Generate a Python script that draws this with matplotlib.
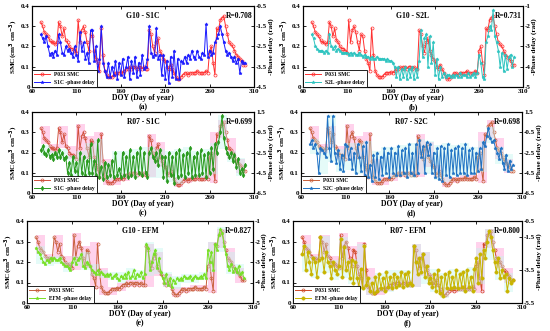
import numpy as np
import matplotlib
matplotlib.use('Agg')
import matplotlib.pyplot as plt

plt.rcParams['font.family'] = ['Liberation Serif', 'DejaVu Serif']
plt.rcParams['font.weight'] = 'bold'
plt.rcParams['axes.labelweight'] = 'bold'
plt.rcParams['axes.unicode_minus'] = False

# DOY, every 2 days
doy = np.arange(70, 301, 2)

# P031 soil moisture (cm3 cm-3)
smc = [0.32, 0.30, 0.27, 0.26, 0.25, 0.23, 0.22, 0.22, 0.21, 0.22,
       0.32, 0.30, 0.25, 0.29, 0.23, 0.22, 0.20, 0.19, 0.19, 0.18,
       0.17, 0.33, 0.22, 0.28, 0.30, 0.27, 0.22, 0.18, 0.26, 0.25,
       0.18, 0.14, 0.12, 0.08, 0.29, 0.16, 0.08, 0.06, 0.05, 0.05,
       0.05, 0.06, 0.07, 0.07, 0.07, 0.075, 0.07, 0.08, 0.09, 0.09,
       0.10, 0.09, 0.10, 0.10, 0.09, 0.10, 0.10, 0.09, 0.10, 0.09,
       0.09, 0.28, 0.26, 0.20, 0.17, 0.22, 0.24, 0.18, 0.16, 0.14,
       0.13, 0.10, 0.09, 0.11, 0.09, 0.07, 0.05, 0.04, 0.04, 0.05,
       0.06, 0.07, 0.07, 0.06, 0.07, 0.07, 0.07, 0.07, 0.08, 0.07,
       0.07, 0.07, 0.07, 0.08, 0.07, 0.18, 0.20, 0.12, 0.06, 0.29,
       0.28, 0.33, 0.34, 0.35, 0.30, 0.26, 0.22, 0.21, 0.20, 0.18,
       0.16, 0.15, 0.14, 0.13, 0.11, 0.11]

# -phase delay (rad)
pd_g10_s1c = [-1.9, -2.1, -2.3, -2.0, -2.5, -2.9, -2.8, -3.0, -2.7, -2.9,
              -1.9, -2.3, -2.8, -2.9, -2.5, -2.7, -2.6, -2.8, -3.0, -2.5,
              -2.9, -3.2, -1.8, -2.7, -2.3, -3.1, -2.8, -3.3, -1.7, -1.7,
              -3.2, -2.5, -3.7, -3.1, -1.5, -3.3, -3.7, -4.0, -3.3, -4.0,
              -3.5, -3.9, -3.2, -4.1, -3.3, -3.9, -3.1, -4.0, -3.5, -3.0,
              -4.1, -3.2, -3.8, -3.0, -4.0, -3.3, -3.9, -2.9, -3.6, -3.5,
              -3.1, -1.5, -2.8, -3.0, -2.9, -1.6, -3.1, -2.9, -3.9, -2.9,
              -4.1, -3.2, -4.3, -3.0, -4.0, -2.7, -4.1, -3.1, -4.1, -3.2,
              -3.3, -3.0, -3.3, -2.9, -3.1, -2.7, -3.0, -3.1, -2.7, -3.0,
              -3.1, -2.8, -2.9, -1.4, -3.0, -2.7, -2.9, -2.8, -2.3, -2.1,
              -1.9, -1.5, -1.9, -2.3, -2.7, -2.9, -2.8, -3.0, -3.2, -3.0,
              -3.3, -3.1, -3.8, -3.2, -3.3, -3.3]

pd_g10_s2l = [-2.4, -2.6, -3.0, -3.1, -3.2, -3.2, -3.2, -3.3, -3.2, -3.3,
              -2.4, -3.0, -3.1, -3.0, -3.2, -3.1, -3.2, -3.3, -3.3, -3.3,
              -3.3, -3.4, -3.3, -3.4, -3.3, -3.4, -3.4, -3.3, -3.4, -3.5,
              -3.4, -3.5, -3.5, -3.6, -3.5, -3.6, -3.6, -3.5, -3.6, -3.6,
              -3.6, -3.6, -3.7, -3.6, -3.7, -3.7, -3.8, -4.0, -4.5, -4.0,
              -4.6, -4.1, -4.5, -4.0, -4.6, -4.1, -4.5, -4.0, -4.6, -4.1,
              -4.5, -3.7, -2.2, -3.5, -2.6, -2.4, -4.0, -2.5, -3.8, -2.8,
              -4.4, -3.6, -4.6, -4.0, -4.5, -4.3, -4.5, -4.4, -4.4, -4.5,
              -4.4, -4.5, -4.4, -4.5, -4.3, -4.5, -4.4, -4.4, -4.5, -4.3,
              -4.5, -4.4, -4.3, -4.5, -4.3, -3.4, -3.8, -4.5, -4.6, -2.8,
              -2.5, -2.0, -2.2, -1.2, -2.5, -2.8, -3.2, -4.0, -3.3, -4.2,
              -3.4, -4.1, -3.5, -3.4, -4.0, -3.5]

pd_r07_s1c = [-2.3, -1.9, -2.5, -2.7, -2.3, -2.9, -2.7, -3.1, -2.5, -2.9,
              -2.3, -2.9, -2.5, -3.1, -2.9, -4.5, -3.5, -4.7, -2.9, -4.3,
              -3.5, -4.9, -2.5, -4.5, -2.9, -4.7, -3.3, -4.5, -1.7, -4.5,
              -3.3, -4.7, -1.3, -4.9, -3.9, -5.1, -3.5, -4.9, -3.7, -4.7,
              -3.3, -4.9, -2.5, -4.7, -4.1, -4.9, -2.5, -4.7, -2.9, -4.9,
              -2.3, -4.7, -2.9, -4.9, -2.5, -4.5, -2.1, -4.7, -2.5, -4.5,
              -4.9, -2.5, -2.1, -2.9, -3.3, -2.5, -3.7, -2.3, -2.9, -4.9,
              -2.9, -5.3, -2.5, -4.7, -2.9, -5.5, -2.5, -4.9, -2.3, -4.7,
              -2.7, -4.9, -2.5, -4.5, -2.1, -4.9, -2.9, -4.7, -2.5, -4.7,
              -2.3, -4.5, -2.7, -4.9, -2.5, -4.5, -2.1, -4.1, -1.7, -2.5,
              -1.5, -0.5, 1.1, -1.1, -2.1, -2.5, -2.9, -2.5, -3.3, -2.7,
              -3.9, -3.1, -4.5, -4.1, -4.7, -3.7]

pd_r07_s2c = [-1.7, -1.3, -2.1, -1.7, -2.5, -4.5, -2.1, -2.3, -2.5, -2.9,
              1.1, -2.1, -3.3, 1.1, -2.5, -3.5, -2.3, -4.1, -2.7, -4.3,
              -1.7, -1.9, -3.1, -2.1, -4.1, -2.5, -4.5, -1.7, -2.9, -4.3,
              -1.9, -4.7, -1.5, -4.9, -3.7, -5.3, -2.7, -4.9, -2.5, -5.1,
              -2.9, -4.7, -2.1, -4.5, -2.5, -4.9, -2.1, -4.5, -2.5, -4.7,
              -1.9, -4.7, -2.3, -4.5, -2.1, -4.9, -1.7, -4.5, -2.5, -4.7,
              -1.7, -4.5, -1.3, -2.9, -1.9, -4.5, -1.5, -2.7, -1.7, -4.5,
              -2.5, -4.9, -2.1, -5.1, -1.9, -5.3, -2.1, -4.7, -1.7, -4.9,
              -2.3, -4.5, -2.1, -4.7, -1.9, -4.5, -2.1, -4.5, -1.7, -4.7,
              -2.3, -4.5, -2.1, -4.5, -2.5, -4.3, -2.1, -4.1, -1.5, -1.9,
              -0.9, -0.1, -1.1, -1.5, -1.3, -2.1, -2.5, -3.1, -2.1, -3.5,
              -4.1, -2.7, -4.3, -3.3, -4.1, -3.7]

pd_g10_efm = [-2.3, -2.5, -2.6, -2.8, -3.0, -3.1, -2.9, -3.0, -2.8, -2.9,
              -2.8, -2.9, -2.9, -2.8, -3.0, -3.1, -3.2, -3.2, -3.3, -3.4,
              -3.0, -2.8, -3.1, -2.9, -2.8, -2.6, -3.2, -3.3, -3.0, -3.1,
              -3.2, -3.4, -3.5, -3.6, -3.4, -3.6, -3.5, -3.6, -3.7, -3.6,
              -3.7, -3.6, -3.8, -3.7, -3.6, -3.8, -3.9, -3.7, -3.8, -3.6,
              -3.8, -3.5, -3.8, -3.7, -3.4, -3.8, -3.6, -3.7, -3.5, -3.8,
              -3.6, -2.1, -2.3, -3.4, -3.0, -2.6, -2.4, -3.3, -2.8, -3.5,
              -3.8, -4.0, -3.6, -4.1, -3.8, -4.2, -3.9, -4.0, -3.8, -3.9,
              -3.8, -3.9, -3.7, -3.8, -3.8, -3.7, -3.9, -3.8, -3.7, -3.8,
              -3.8, -3.7, -3.8, -3.6, -3.8, -2.4, -3.0, -2.5, -3.4, -2.1,
              -2.4, -1.7, -1.4, -1.6, -2.2, -2.6, -3.2, -3.4, -3.1, -3.5,
              -3.3, -3.5, -3.2, -3.6, -3.5, -3.8]

pd_r07_efm = [-2.5, -2.0, -3.5, -2.4, -3.0, -3.75, -2.75, -3.0, -3.9, -2.9,
              -1.5, -2.75, -3.6, -2.4, -3.0, -3.25, -4.0, -3.0, -3.5, -3.75,
              -3.25, -1.6, -3.9, -2.1, -3.5, -3.0, -4.0, -2.9, -4.25, -3.0,
              -4.0, -4.5, -3.4, -4.6, -2.0, -4.4, -4.0, -4.75, -4.25, -4.9,
              -3.9, -4.75, -3.75, -4.6, -4.0, -4.75, -3.6, -4.5, -3.9, -4.6,
              -3.75, -4.5, -3.9, -4.4, -3.6, -4.5, -3.75, -4.4, -3.6, -4.25,
              -4.4, -2.0, -3.0, -3.75, -2.75, -3.6, -2.5, -3.9, -3.25, -4.25,
              -4.0, -4.5, -3.75, -4.75, -3.5, -4.9, -3.9, -5.1, -3.75, -4.6,
              -3.6, -4.6, -3.9, -4.5, -3.5, -4.6, -3.75, -4.5, -3.6, -4.75,
              -3.5, -4.5, -3.9, -4.75, -3.4, -2.75, -4.25, -2.5, -4.0, -2.25,
              -2.75, -1.75, -1.1, -1.5, -2.25, -3.0, -3.6, -2.75, -4.0, -3.5,
              -3.9, -3.75, -4.75, -4.0, -4.25, -4.1]


def block_band(v, n=5):
    v = np.asarray(v, dtype=float)
    lo = np.array([v[(i // n) * n:(i // n) * n + n].min() for i in range(len(v))])
    hi = np.array([v[(i // n) * n:(i // n) * n + n].max() for i in range(len(v))])
    return lo, hi


W, H = 550, 331
fig = plt.figure(figsize=(5.5, 3.31), dpi=100)

panels = [
    # rect px (left, top, width, height), title, R, phase, label, colors, marker, ylim2, ticks2, bands, caption
    ((32, 6, 222, 81), 'G10 - S1C', 'R=0.708', pd_g10_s1c, 'S1C -phase delay',
     '#ff3030', '#1a1aff', '*', (-4.5, -0.5), [-4.5, -3.5, -2.5, -1.5, -0.5], False, '(a)'),
    ((303, 6, 220, 81), 'G10 - S2L', 'R=0.731', pd_g10_s2l, 'S2L -phase delay',
     '#ff3030', '#2ec4c0', '*', (-5, -1), [-5, -4, -3, -2, -1], False, '(b)'),
    ((32, 112, 222, 81), 'R07 - S1C', 'R=0.699', pd_r07_s1c, 'S1C -phase delay',
     '#d0503c', '#2a9a1e', 'd', (-6.5, 1.5), [-6.5, -4.5, -2.5, -0.5, 1.5], True, '(c)'),
    ((301, 112, 221, 81), 'R07 - S2C', 'R=0.698', pd_r07_s2c, 'S2C -phase delay',
     '#c8603c', '#1f72c4', '*', (-6.5, 1.5), [-6.5, -4.5, -2.5, -0.5, 1.5], True, '(d)'),
    ((27, 221, 226, 82), 'G10 - EFM', 'R=0.827', pd_g10_efm, 'EFM -phase delay',
     '#c8603c', '#77e024', '*', (-5, -1), [-5, -4, -3, -2, -1], True, '(e)'),
    ((293, 221, 229, 82), 'R07 - EFM', 'R=0.800', pd_r07_efm, 'EFM -phase delay',
     '#d04a28', '#c8b400', 'o', (-5.5, -0.5), [-5.5, -3.5, -1.5, -0.5], True, '(f)'),
]

for rect, title, rtxt, pd, plabel, c1, c2, mk, lim2, ticks2, bands, cap in panels:
    l, t, w, h = rect
    ax = fig.add_axes([l / W, 1 - (t + h) / H, w / W, h / H])
    ax2 = ax.twinx()

    if bands:
        lo, hi = block_band(smc)
        ax.fill_between(doy, lo - 0.01, hi + 0.01, step='post', color='#ffd2ec',
                        lw=0, zorder=0)
        plo, phi = block_band(pd)
        ax2.fill_between(doy, plo - 0.1, phi + 0.1, step='post', color='#bff7ee',
                         alpha=0.4, lw=0, zorder=0)

    l1, = ax.plot(doy, smc, '-o', color=c1, lw=0.7, ms=2.2, mfc='none', mew=0.5,
                  label='P031 SMC')
    l2, = ax2.plot(doy, pd, '-', marker=mk, color=c2, lw=0.7, ms=2.4, mew=0.4,
                   label=plabel)

    ax.set_xlim(60, 310)
    ax.set_xticks([60, 110, 160, 210, 260, 310])
    ax.set_ylim(0, 0.4)
    ax.set_yticks([0, 0.1, 0.2, 0.3, 0.4])
    ax.set_yticklabels(['0', '0.1', '0.2', '0.3', '0.4'])
    ax2.set_ylim(*lim2)
    ax2.set_yticks(ticks2)
    ax2.set_yticklabels([('%g' % v) for v in ticks2])

    for a in (ax, ax2):
        a.tick_params(direction='in', length=2, width=0.6, labelsize=5, pad=1.5)
        for s in a.spines.values():
            s.set_linewidth(0.8)
    ax.tick_params(top=True)

    ax.set_xlabel('DOY (Day of year)', fontsize=5.5, labelpad=0)
    ax.set_ylabel('SMC(cm$^{3}$ cm$^{-3}$)', fontsize=5.2, labelpad=0.5)
    ax2.set_ylabel('-Phase delay (rad)', fontsize=5.2, labelpad=0.5)

    ax.text(0.5, 0.93, title, transform=ax.transAxes, ha='center', va='top',
            fontsize=5.5, fontweight='bold')
    ax.text(0.995, 0.93, rtxt, transform=ax.transAxes, ha='right', va='top',
            fontsize=5.5, fontweight='bold')
    ax.text(0.5, -0.25, cap, transform=ax.transAxes, ha='center', va='center',
            fontsize=5.5, fontweight='bold')

    leg = ax2.legend([l1, l2], ['P031 SMC', plabel], loc='lower left',
                     fontsize=4, frameon=True, fancybox=False, framealpha=1,
                     edgecolor='black', borderaxespad=0, handlelength=2.8,
                     borderpad=0.4, labelspacing=0.5)
    leg.get_frame().set_linewidth(0.6)

fig.savefig('out.png', dpi=100)
